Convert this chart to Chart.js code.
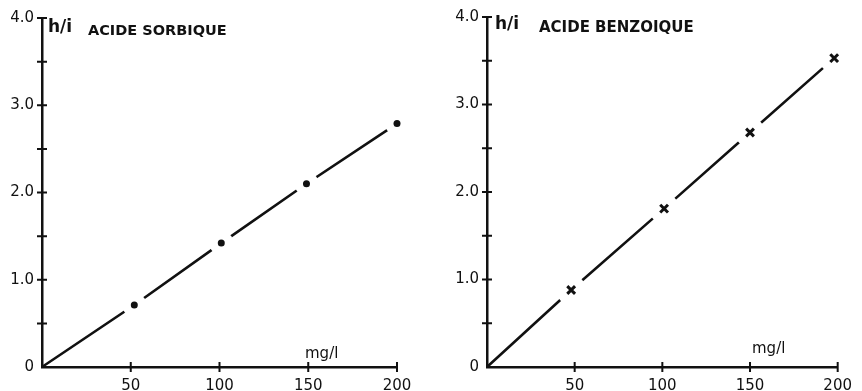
<!DOCTYPE html>
<html>
<head>
<meta charset="utf-8">
<script src="https://cdn.jsdelivr.net/npm/chart.js@4.4.0/dist/chart.umd.min.js"></script>
<style>
  html, body { margin: 0; padding: 0; background: #fff; }
  .panel { position: absolute; top: 0; width: 431px; height: 391px; }
</style>
</head>
<body>
<div class="panel" style="left:0"><canvas id="sorbic" width="431" height="391"></canvas></div>
<div class="panel" style="left:431px"><canvas id="benzoic" width="431" height="391"></canvas></div>
<script>
// concentration (mg/l) vs peak ratio h/i
const sorbicConc = [52, 101, 149, 200];
const sorbicRatio = [0.71, 1.42, 2.10, 2.79];
const benzoicConc = [48, 101, 150, 198];
const benzoicRatio = [0.88, 1.81, 2.68, 3.53];

const xTickValues = [0, 50, 100, 150, 200];
const yTickValues = [0, 0.5, 1, 1.5, 2, 2.5, 3, 3.5, 4];

const INK = '#111';
const FONT = '"DejaVu Sans", "Liberation Sans", sans-serif';

// small tick marks that cross the axis on both sides
const crossTicks = {
  id: 'crossTicks',
  afterDraw(chart) {
    const { ctx, chartArea, scales: { x, y } } = chart;
    ctx.save();
    ctx.strokeStyle = INK;
    ctx.lineWidth = 2;
    ctx.beginPath();
    x.ticks.forEach(t => {
      if (t.value === 0) return;
      const px = x.getPixelForValue(t.value);
      ctx.moveTo(px, chartArea.bottom - 5);
      ctx.lineTo(px, chartArea.bottom + 5);
    });
    y.ticks.forEach(t => {
      if (t.value === 0) return;
      const py = y.getPixelForValue(t.value);
      ctx.moveTo(chartArea.left - 5, py);
      ctx.lineTo(chartArea.left + 5, py);
    });
    ctx.stroke();
    ctx.restore();
  }
};

// the labels written inside the plot (h/i, title, mg/l)
const panelText = {
  id: 'panelText',
  afterDraw(chart, args, opts) {
    const ctx = chart.ctx;
    ctx.save();
    ctx.fillStyle = INK;
    ctx.textBaseline = 'alphabetic';
    opts.items.forEach(it => {
      ctx.font = it.font;
      ctx.fillText(it.text, it.x, it.y);
    });
    ctx.restore();
  }
};

function makePanel(id, conc, ratio, marker, gap, yWidth, pad, texts) {
  const pts = conc.map((c, i) => ({ x: c, y: ratio[i] }));
  const ctx = document.getElementById(id).getContext('2d');
  return new Chart(ctx, {
    type: 'scatter',
    data: {
      datasets: [
        {
          data: [{ x: 0, y: 0 }].concat(pts),
          showLine: true,
          borderColor: INK,
          borderWidth: 2.6,
          pointRadius: 0,
          clip: false,
          order: 3
        },
        {
          // white discs leave the gaps in the line round each point
          data: pts,
          pointRadius: gap,
          pointBackgroundColor: '#fff',
          pointBorderWidth: 0,
          clip: false,
          order: 2
        },
        Object.assign({ data: pts, clip: false, order: 1 }, marker)
      ]
    },
    options: {
      responsive: false,
      animation: false,
      events: [],
      layout: { padding: pad },
      plugins: {
        legend: { display: false },
        tooltip: { enabled: false },
        panelText: { items: texts }
      },
      scales: {
        x: {
          type: 'linear',
          min: 0,
          max: 200,
          afterBuildTicks: s => { s.ticks = xTickValues.map(v => ({ value: v })); },
          afterFit: s => { s.height = 24; },
          grid: { display: false, drawTicks: false },
          border: { color: INK, width: 2.5 },
          ticks: {
            autoSkip: false,
            maxRotation: 0,
            color: INK,
            padding: 10,
            font: { family: FONT, size: 15 },
            callback: v => (v === 0 ? '' : v)
          }
        },
        y: {
          type: 'linear',
          min: 0,
          max: 4,
          afterBuildTicks: s => { s.ticks = yTickValues.map(v => ({ value: v })); },
          afterFit: s => { s.width = yWidth; },
          grid: { display: false, drawTicks: false },
          border: { color: INK, width: 2.5 },
          ticks: {
            autoSkip: false,
            color: INK,
            padding: 8,
            font: { family: FONT, size: 15 },
            callback: v => (v === 0 ? '0' : (v % 1 === 0 ? v.toFixed(1) : ''))
          }
        }
      }
    },
    plugins: [crossTicks, panelText]
  });
}

makePanel('sorbic', sorbicConc, sorbicRatio,
  { pointStyle: 'circle', pointRadius: 3.5, pointBackgroundColor: INK, pointBorderWidth: 0 },
  12, 42, { left: 0, top: 18, right: 34, bottom: 0 },
  [
    { text: 'h/i', x: 48, y: 32, font: 'bold 17px ' + FONT },
    { text: 'ACIDE SORBIQUE', x: 88, y: 35, font: 'bold 14.5px ' + FONT },
    { text: 'mg/l', x: 305, y: 358, font: '15px ' + FONT }
  ]);

makePanel('benzoic', benzoicConc, benzoicRatio,
  { pointStyle: 'crossRot', pointRadius: 5.5, pointBorderColor: INK, pointBorderWidth: 3 },
  15, 56, { left: 0, top: 16, right: 19, bottom: 0 },
  [
    { text: 'h/i', x: 64, y: 29, font: 'bold 17px ' + FONT },
    { text: 'ACIDE BENZOIQUE', x: 108, y: 32, font: 'bold 15px ' + FONT },
    { text: 'mg/l', x: 321, y: 353, font: '15px ' + FONT }
  ]);
</script>
</body>
</html>
